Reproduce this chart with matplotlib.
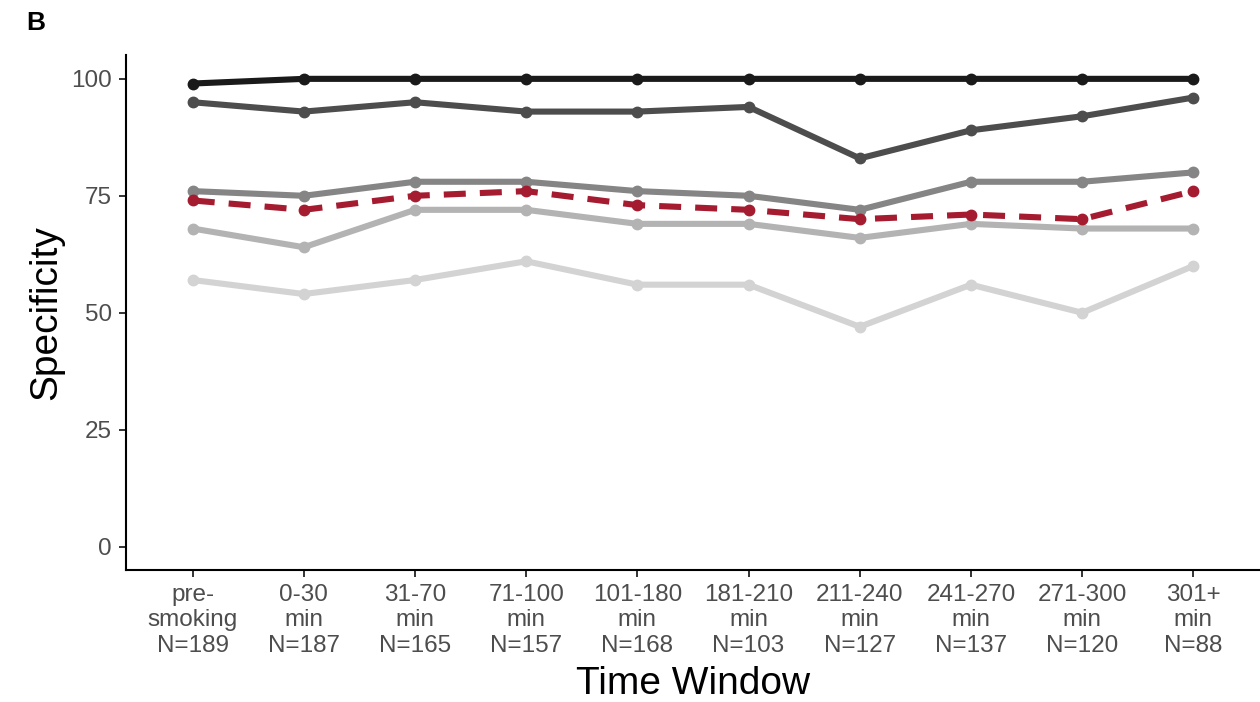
import matplotlib
matplotlib.use("Agg")
import matplotlib.pyplot as plt
import numpy as np

plt.rcParams['font.family'] = ['Liberation Sans', 'DejaVu Sans']

categories = ["pre-\nsmoking\nN=189", "0-30\nmin\nN=187", "31-70\nmin\nN=165", "71-100\nmin\nN=157",
              "101-180\nmin\nN=168", "181-210\nmin\nN=103", "211-240\nmin\nN=127", "241-270\nmin\nN=137",
              "271-300\nmin\nN=120", "301+\nmin\nN=88"]

s_black = [99, 100, 100, 100, 100, 100, 100, 100, 100, 100]
s_dark = [95, 93, 95, 93, 93, 94, 83, 89, 92, 96]
s_mid = [76, 75, 78, 78, 76, 75, 72, 78, 78, 80]
s_light = [68, 64, 72, 72, 69, 69, 66, 69, 68, 68]
s_lightest = [57, 54, 57, 61, 56, 56, 47, 56, 50, 60]
s_red = [74, 72, 75, 76, 73, 72, 70, 71, 70, 76]

fig = plt.figure(figsize=(12.6, 7.02), dpi=100)
ax = fig.add_axes([0.1, 0.188, 0.9, 0.733])

x = np.arange(len(categories))
lw = 4.4
ms = 7.5
for ys, c in [(s_lightest, '#d3d3d3'), (s_light, '#b3b3b3'), (s_mid, '#858585'),
              (s_dark, '#4d4d4d'), (s_black, '#1a1a1a')]:
    ax.plot(x, ys, color=c, lw=lw, marker='o', ms=ms, solid_capstyle='butt')
ax.plot(x, s_red, color='#A51C30', lw=lw, marker='o', ms=ms, dashes=(3.6, 2.3))

ax.set_xlim(-0.6, len(categories) - 1 + 0.6)
ax.set_ylim(-5, 105)
ax.set_yticks([0, 25, 50, 75, 100])
ax.set_xticks(x)
ax.set_xticklabels(categories, linespacing=1.2)
ax.tick_params(axis='both', labelsize=17.5, labelcolor='#4d4d4d', color='#333333',
               length=5, width=1.4, pad=5)
for s in ['top', 'right']:
    ax.spines[s].set_visible(False)
for s in ['left', 'bottom']:
    ax.spines[s].set_linewidth(1.5)
    ax.spines[s].set_color('black')

ax.set_ylabel("Specificity", fontsize=28, labelpad=5)
ax.set_xlabel("Time Window", fontsize=28, labelpad=7)

fig.text(0.021, 0.985, "B", fontsize=19, fontweight='bold', va='top', ha='left')

fig.savefig("out.png", dpi=100)
